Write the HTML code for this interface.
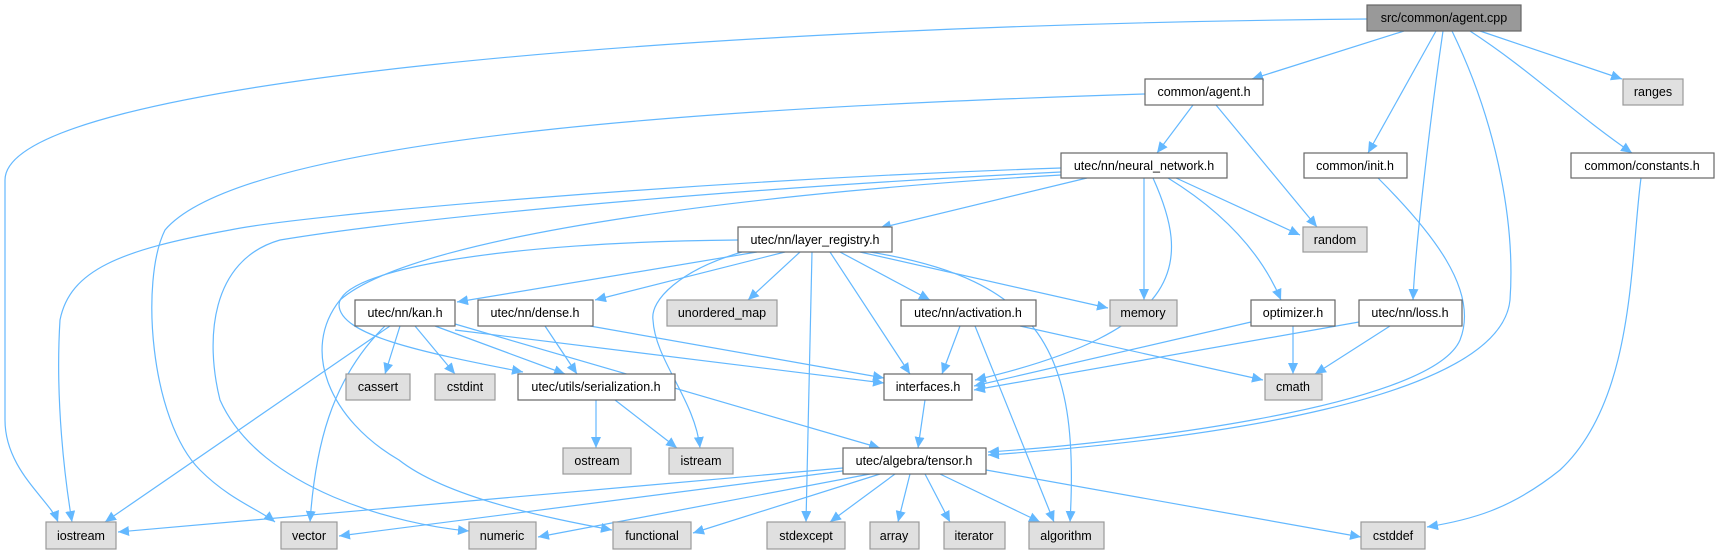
<!DOCTYPE html>
<html><head><meta charset="utf-8"><style>
html,body{margin:0;padding:0;background:#fff;}
svg{display:block;}
text{font-family:"Liberation Sans",sans-serif;font-size:12.5px;fill:#000;}
</style></head><body>
<svg width="1719" height="552" viewBox="0 0 1719 552" xmlns="http://www.w3.org/2000/svg">
<defs>
<marker id="a" markerUnits="userSpaceOnUse" markerWidth="12" markerHeight="10" refX="11" refY="5" orient="auto">
<path d="M0,0 L11,5 L0,10 z" fill="#63b8ff"/>
</marker>
</defs>
<g fill="none" stroke="#63b8ff" stroke-width="1.2" marker-end="url(#a)">
<path d="M1367,19 C700,25 5,80 5,180 L5,420 C5,470 50,500 58,522"/>
<path d="M1404,31 L1252,79"/>
<path d="M1480,31 L1622,79"/>
<path d="M1436,31 L1368,153"/>
<path d="M1443,31 C1430,120 1415,250 1413,300"/>
<path d="M1452,31 C1500,130 1515,230 1510,300 C1500,400 1200,440 988,455"/>
<path d="M1378,178 C1430,230 1480,290 1460,340 C1430,410 1100,445 988,452"/>
<path d="M1470,31 C1530,70 1570,110 1632,153"/>
<path d="M1641,178 C1630,260 1635,400 1560,470 C1510,510 1470,520 1427,527"/>
<path d="M1145,94 C800,105 250,130 165,230 C140,280 150,420 200,470 C230,500 260,510 275,522"/>
<path d="M1193,105 L1157,153"/>
<path d="M1216,105 L1317,227"/>
<path d="M1087,178 L880,228"/>
<path d="M1176,178 L1300,235"/>
<path d="M1144,178 L1144,300"/>
<path d="M1168,178 C1220,210 1260,250 1281,300"/>
<path d="M1153,178 C1190,260 1190,330 975,380"/>
<path d="M1061,168 C700,180 300,215 230,230 C120,250 70,270 60,320 C55,400 65,480 72,522"/>
<path d="M1061,172 C700,190 400,220 280,240 C210,260 205,340 220,400 C260,490 400,525 469,531"/>
<path d="M1061,175 C800,190 420,230 340,300 C300,350 330,420 399,460 C450,500 560,520 612,530"/>
<path d="M738,240 C500,242 340,270 339,305 C340,335 420,352 523,372"/>
<path d="M757,252 L457,302"/>
<path d="M785,252 L595,300"/>
<path d="M800,252 L748,300"/>
<path d="M742,252 C680,270 650,300 653,320 C655,360 695,400 700,448"/>
<path d="M812,252 L806,522"/>
<path d="M830,252 L910,374"/>
<path d="M840,252 L930,300"/>
<path d="M860,252 L1108,308"/>
<path d="M870,252 C1040,280 1080,350 1070,522"/>
<path d="M390,326 L105,522"/>
<path d="M385,326 C330,380 315,450 310,522"/>
<path d="M400,326 L385,374"/>
<path d="M415,326 L455,374"/>
<path d="M435,326 L565,374"/>
<path d="M455,330 L884,383"/>
<path d="M455,324 L880,448"/>
<path d="M545,326 L577,374"/>
<path d="M590,326 L884,378"/>
<path d="M960,326 L942,374"/>
<path d="M975,326 L1054,522"/>
<path d="M1020,326 L1263,380"/>
<path d="M1251,322 L974,386"/>
<path d="M1293,326 L1293,374"/>
<path d="M1359,322 L974,390"/>
<path d="M1390,326 L1315,374"/>
<path d="M596,400 L596,448"/>
<path d="M615,400 L677,448"/>
<path d="M925,400 L918,448"/>
<path d="M843,468 L118,532"/>
<path d="M850,470 L339,536"/>
<path d="M870,474 L538,537"/>
<path d="M880,474 L693,533"/>
<path d="M895,474 L830,522"/>
<path d="M910,474 L898,522"/>
<path d="M925,474 L950,522"/>
<path d="M940,474 L1040,522"/>
<path d="M986,470 L1361,537"/>
</g>
<g stroke-width="1.2" text-anchor="middle">
<rect x="1367" y="5" width="154" height="26" fill="#999" stroke="#666"/><text x="1444" y="22">src/common/agent.cpp</text>
<g fill="#fff" stroke="#666">
<rect x="1145" y="79" width="118" height="26"/>
<rect x="1061" y="153" width="166" height="25"/>
<rect x="1304" y="153" width="103" height="25"/>
<rect x="1571" y="153" width="143" height="25"/>
<rect x="738" y="227" width="154" height="25"/>
<rect x="355" y="300" width="100" height="26"/>
<rect x="478" y="300" width="115" height="26"/>
<rect x="901" y="300" width="135" height="26"/>
<rect x="1251" y="300" width="84" height="26"/>
<rect x="1359" y="300" width="103" height="26"/>
<rect x="518" y="374" width="157" height="26"/>
<rect x="884" y="374" width="88" height="26"/>
<rect x="843" y="448" width="143" height="26"/>
</g>
<g fill="#e0e0e0" stroke="#999">
<rect x="1623" y="79" width="60" height="26"/>
<rect x="1303" y="227" width="64" height="25"/>
<rect x="667" y="300" width="110" height="26"/>
<rect x="1110" y="300" width="67" height="26"/>
<rect x="346" y="374" width="64" height="26"/>
<rect x="435" y="374" width="60" height="26"/>
<rect x="1265" y="374" width="57" height="26"/>
<rect x="563" y="448" width="68" height="26"/>
<rect x="669" y="448" width="64" height="26"/>
<rect x="46" y="522" width="70" height="27"/>
<rect x="281" y="522" width="56" height="27"/>
<rect x="469" y="522" width="67" height="27"/>
<rect x="613" y="522" width="78" height="27"/>
<rect x="767" y="522" width="78" height="27"/>
<rect x="870" y="522" width="49" height="27"/>
<rect x="944" y="522" width="61" height="27"/>
<rect x="1029" y="522" width="75" height="27"/>
<rect x="1361" y="522" width="64" height="27"/>
</g>
<text x="1204" y="96">common/agent.h</text>
<text x="1653" y="96">ranges</text>
<text x="1144" y="170">utec/nn/neural_network.h</text>
<text x="1355" y="170">common/init.h</text>
<text x="1642" y="170">common/constants.h</text>
<text x="815" y="244">utec/nn/layer_registry.h</text>
<text x="1335" y="244">random</text>
<text x="405" y="317">utec/nn/kan.h</text>
<text x="535" y="317">utec/nn/dense.h</text>
<text x="722" y="317">unordered_map</text>
<text x="968" y="317">utec/nn/activation.h</text>
<text x="1143" y="317">memory</text>
<text x="1293" y="317">optimizer.h</text>
<text x="1410" y="317">utec/nn/loss.h</text>
<text x="378" y="391">cassert</text>
<text x="465" y="391">cstdint</text>
<text x="596" y="391">utec/utils/serialization.h</text>
<text x="928" y="391">interfaces.h</text>
<text x="1293" y="391">cmath</text>
<text x="597" y="465">ostream</text>
<text x="701" y="465">istream</text>
<text x="914" y="465">utec/algebra/tensor.h</text>
<text x="81" y="540">iostream</text>
<text x="309" y="540">vector</text>
<text x="502" y="540">numeric</text>
<text x="652" y="540">functional</text>
<text x="806" y="540">stdexcept</text>
<text x="894" y="540">array</text>
<text x="974" y="540">iterator</text>
<text x="1066" y="540">algorithm</text>
<text x="1393" y="540">cstddef</text>
</g>
</svg>
</body></html>
